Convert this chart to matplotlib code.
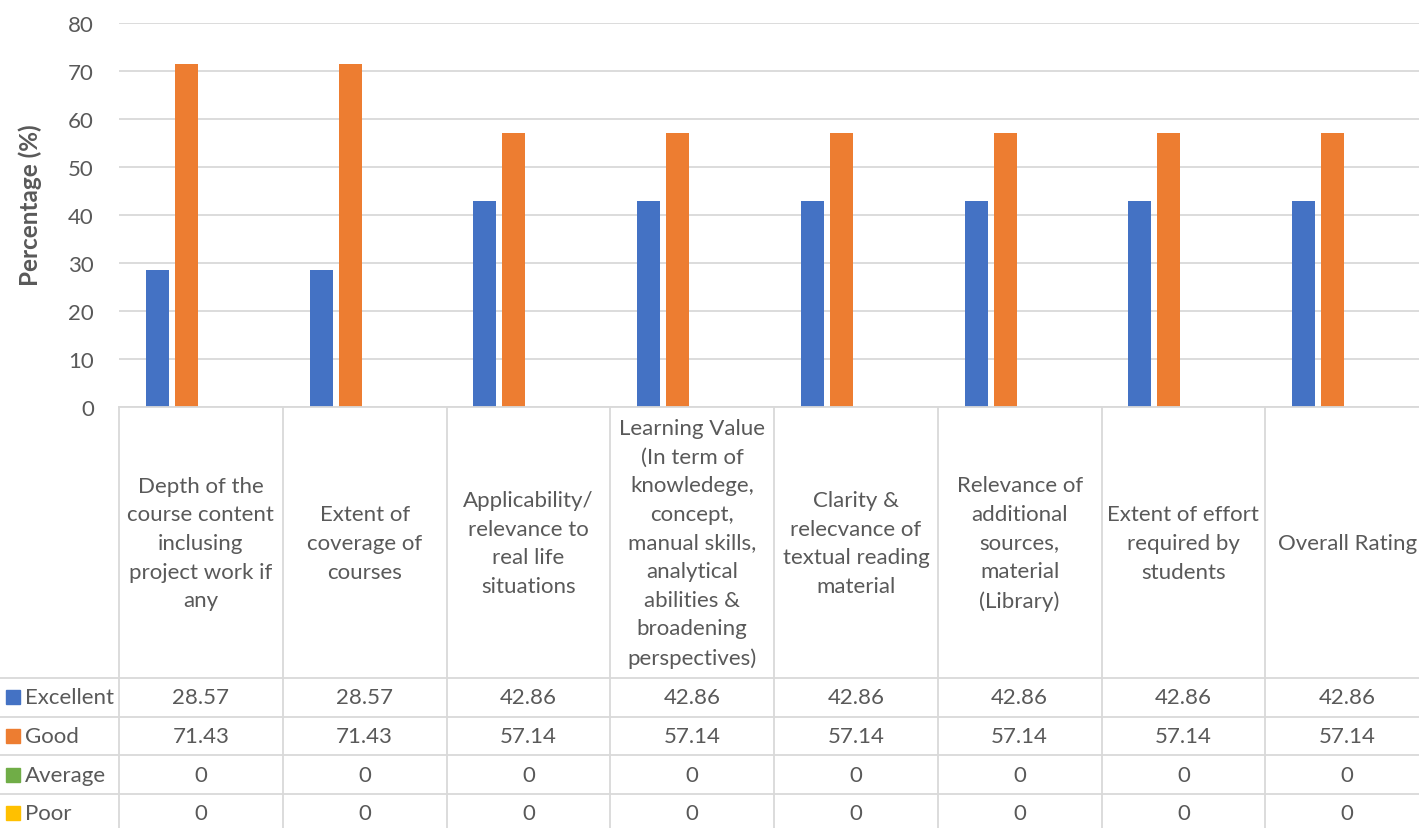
import numpy as np
import matplotlib
matplotlib.use("Agg")
import matplotlib.pyplot as plt
from matplotlib.patches import Rectangle

plt.rcParams['font.family'] = ['Lato', 'DejaVu Sans']

categories = [
    "Depth of the\ncourse content\ninclusing\nproject work if\nany",
    "Extent of\ncoverage of\ncourses",
    "Applicability/\nrelevance to\nreal life\nsituations",
    "Learning Value\n(In term of\nknowledege,\nconcept,\nmanual skills,\nanalytical\nabilities &\nbroadening\nperspectives)",
    "Clarity &\nrelecvance of\ntextual reading\nmaterial",
    "Relevance of\nadditional\nsources,\nmaterial\n(Library)",
    "Extent of effort\nrequired by\nstudents",
    "Overall Rating",
]
series_names = ["Excellent", "Good", "Average", "Poor"]
excellent = [28.57, 28.57, 42.86, 42.86, 42.86, 42.86, 42.86, 42.86]
good = [71.43, 71.43, 57.14, 57.14, 57.14, 57.14, 57.14, 57.14]
average = [0, 0, 0, 0, 0, 0, 0, 0]
poor = [0, 0, 0, 0, 0, 0, 0, 0]
colors = ["#4472C4", "#ED7D31", "#70AD47", "#FFC000"]

txt = "#595959"
grid = "#D9D9D9"
fs = 16

W, H = 1419, 829
fig = plt.figure(figsize=(W / 100, H / 100), dpi=100)

# pixel layout
x0, x1 = 119, 1429
y_top, y_zero = 24, 408
head_h, row_h = 271, 38.7

ax = fig.add_axes([x0 / W, 1 - y_zero / H, (x1 - x0) / W, (y_zero - y_top) / H])
n = len(categories)
xs = np.arange(n) + 0.5
bw = 0.14
step = 0.177
all_series = [excellent, good, average, poor]
for k, vals in enumerate(all_series):
    ax.bar(xs + (k - 1.5) * step, vals, width=bw, color=colors[k], zorder=3)

ax.set_xlim(0, n)
ax.set_ylim(0, 80)
ax.set_yticks(range(0, 81, 10))
ax.set_xticks([])
ax.grid(axis='y', color=grid, linewidth=1.3, zorder=0)
ax.tick_params(axis='y', length=0, labelsize=fs, labelcolor=txt, pad=18)
for s in ax.spines.values():
    s.set_visible(False)
fig.text(30 / W, 1 - 205 / H, "Percentage (%)", rotation=90, ha='center', va='center',
         fontsize=17.5, fontweight='bold', color=txt)

# data table below the plot
tot = head_h + row_h * len(series_names)
tax = fig.add_axes([x0 / W, 1 - (y_zero + tot) / H, (x1 - x0) / W, tot / H])
tax.set_xlim(0, n)
tax.set_ylim(tot, 0)
tax.axis('off')
px = n / (x1 - x0)  # one pixel in category units
left_w = x0 * px

lw = 1.3
tax.plot([0, n], [0, 0], color=grid, lw=lw, clip_on=False)
for i in range(n + 1):
    tax.plot([i, i], [0, tot], color=grid, lw=lw, clip_on=False)
for r in range(len(series_names) + 1):
    y = head_h + r * row_h
    tax.plot([-left_w, n], [y, y], color=grid, lw=lw, clip_on=False)

for i, c in enumerate(categories):
    tax.text(i + 0.5, 136, c, ha='center', va='center', fontsize=fs, color=txt,
             linespacing=1.54)

for r, name in enumerate(series_names):
    yc = head_h + (r + 0.5) * row_h
    tax.add_patch(Rectangle((-left_w + 6 * px, yc - 7), 14 * px, 14,
                            color=colors[r], clip_on=False))
    tax.text(-left_w + 25 * px, yc, name, ha='left', va='center',
             fontsize=fs, color=txt)
    for i, v in enumerate(all_series[r]):
        tax.text(i + 0.5, yc, f"{v:g}", ha='center', va='center', fontsize=fs, color=txt)

fig.savefig("out.png", dpi=100, facecolor="white")
